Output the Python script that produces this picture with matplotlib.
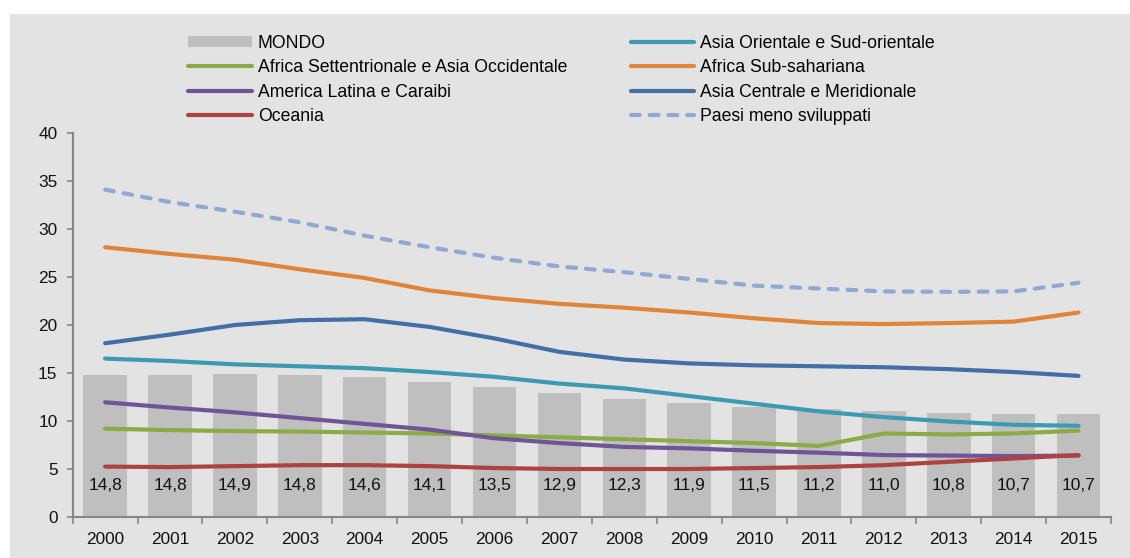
import numpy as np
import matplotlib.pyplot as plt
from matplotlib.patches import Rectangle

plt.rcParams['font.family'] = ['Liberation Sans', 'DejaVu Sans']

anni = [str(a) for a in range(2000, 2016)]
mondo = [14.8, 14.8, 14.9, 14.8, 14.6, 14.1, 13.5, 12.9, 12.3, 11.9, 11.5, 11.2, 11.0, 10.8, 10.7, 10.7]

africa_sett = [9.2, 9.05, 8.95, 8.9, 8.8, 8.7, 8.5, 8.3, 8.1, 7.9, 7.7, 7.4, 8.7, 8.6, 8.7, 9.0]
america_lat = [11.95, 11.4, 10.9, 10.3, 9.7, 9.1, 8.2, 7.7, 7.3, 7.15, 6.9, 6.7, 6.45, 6.4, 6.35, 6.4]
oceania = [5.25, 5.2, 5.3, 5.4, 5.4, 5.3, 5.1, 5.0, 5.0, 5.0, 5.1, 5.2, 5.4, 5.75, 6.1, 6.45]
asia_or = [16.5, 16.25, 15.9, 15.7, 15.5, 15.1, 14.6, 13.9, 13.4, 12.6, 11.8, 11.0, 10.4, 9.95, 9.6, 9.5]
africa_sub = [28.1, 27.4, 26.8, 25.8, 24.9, 23.6, 22.8, 22.2, 21.8, 21.3, 20.7, 20.2, 20.1, 20.2, 20.35, 21.3]
asia_cen = [18.1, 19.0, 20.0, 20.5, 20.6, 19.8, 18.6, 17.2, 16.4, 16.0, 15.8, 15.7, 15.6, 15.4, 15.1, 14.7]
paesi_ms = [34.1, 32.8, 31.8, 30.7, 29.3, 28.1, 27.0, 26.1, 25.5, 24.8, 24.1, 23.8, 23.5, 23.45, 23.5, 24.4]

bg = '#e3e3e3'
fig = plt.figure(figsize=(11.3, 5.58), dpi=100)
fig.patches.append(Rectangle((10 / 1130, 0), 1, 1 - 14 / 558, transform=fig.transFigure,
                             facecolor=bg, edgecolor='none', zorder=-10))

ax = fig.add_axes([72.7 / 1130, 41 / 558, (1111 - 72.7) / 1130, 384 / 558])
ax.set_facecolor('none')

x = np.arange(len(anni))
bars = ax.bar(x, mondo, width=0.67, color='#bfbfbf', label='MONDO', zorder=1)
for xi, v in zip(x, mondo):
    ax.text(xi, 3.3, f'{v:.1f}'.replace('.', ','), ha='center', va='center',
            fontsize=12.5, color='#111111', zorder=2)

kw = dict(lw=3, solid_capstyle='round', solid_joinstyle='round', zorder=3)
l_asia_or, = ax.plot(x, asia_or, color='#3d9ab2', label='Asia Orientale e Sud-orientale', **kw)
l_afr_sub, = ax.plot(x, africa_sub, color='#e0843a', label='Africa Sub-sahariana', **kw)
l_asia_cen, = ax.plot(x, asia_cen, color='#416fa6', label='Asia Centrale e Meridionale', **kw)
l_paesi, = ax.plot(x, paesi_ms, color='#8eaad4', lw=3, linestyle=(0, (2.1, 2.4)),
                   dash_capstyle='round', label='Paesi meno sviluppati', zorder=3)
l_afr_sett, = ax.plot(x, africa_sett, color='#8aac48', label='Africa Settentrionale e Asia Occidentale', **kw)
l_amer, = ax.plot(x, america_lat, color='#6f5597', label='America Latina e Caraibi', **kw)
l_oce, = ax.plot(x, oceania, color='#ad4240', label='Oceania', **kw)

ax.set_xlim(-0.5, len(anni) - 0.5)
ax.set_ylim(0, 40)
ax.set_yticks(range(0, 41, 5))
ax.set_xticks(x)
ax.set_xticklabels(anni)
ax.set_xticks(np.arange(-0.5, len(anni), 1), minor=True)
ax.tick_params(axis='x', which='major', length=0, pad=11, labelsize=12.4, colors='#111111')
ax.tick_params(axis='x', which='minor', length=5, width=1.2, color='#868686', direction='out')
ax.tick_params(axis='y', length=4, width=1.2, color='#868686', pad=7, labelsize=12.4, labelcolor='#111111')
for s in ['top', 'right']:
    ax.spines[s].set_visible(False)
for s in ['left', 'bottom']:
    ax.spines[s].set_color('#868686')
    ax.spines[s].set_linewidth(1.5)

handles = [bars, l_afr_sett, l_amer, l_oce, l_asia_or, l_afr_sub, l_asia_cen, l_paesi]
leg = fig.legend(handles=handles, labels=[h.get_label() for h in handles], ncol=2,
                 loc='upper left', bbox_to_anchor=(188 / 1130, 1 - 35 / 558),
                 frameon=False, fontsize=12.7, handlelength=3.6, handleheight=0.6,
                 handletextpad=0.35, columnspacing=3.6, labelspacing=0.42,
                 borderpad=0, borderaxespad=0)

fig.savefig('out.png', dpi=100, facecolor='white')
